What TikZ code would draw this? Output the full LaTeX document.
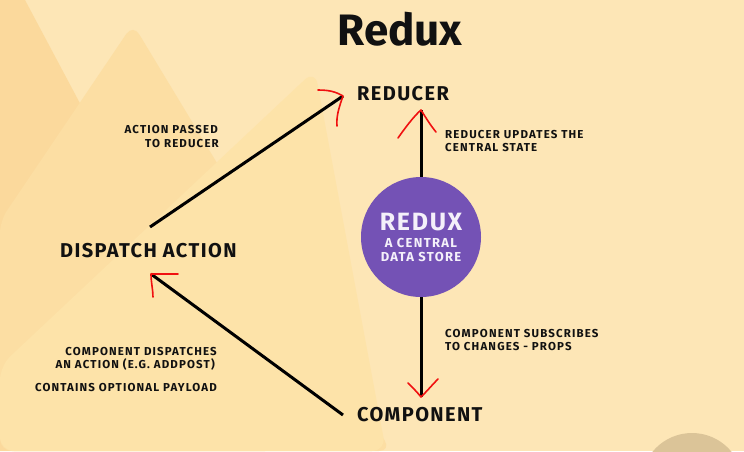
\documentclass[tikz,border=0pt]{standalone}
\usepackage{fontspec}
\setmainfont{Fira Sans}
\newfontfamily\labfont{Fira Sans}[LetterSpace=10]
\newfontfamily\bigfont{Fira Sans}[LetterSpace=7]
\definecolor{bgc}{HTML}{FDE6B6}
\definecolor{mta}{HTML}{FBD99C}
\definecolor{mtb}{HTML}{FCDEA3}
\definecolor{mtc}{HTML}{FDE3A9}
\definecolor{moon}{HTML}{DBC498}
\definecolor{storec}{HTML}{7452B5}
\definecolor{storetxt}{HTML}{F4F0FA}
\definecolor{inkc}{HTML}{111111}
\definecolor{penred}{HTML}{F01010}
\tikzset{
  biglabel/.style={font=\bigfont\bfseries\fontsize{20}{20}\selectfont, text=inkc, inner sep=0pt, anchor=base west},
  smalllabel/.style={font=\labfont\bfseries\fontsize{11.5}{11.5}\selectfont, text=inkc, inner sep=0pt},
  storelabel/.style={font=\labfont\bfseries\fontsize{13}{13}\selectfont, text=storetxt, inner sep=0pt, anchor=base},
  flow/.style={draw=black, line width=3pt},
  redpen/.style={draw=penred, line width=1.6pt, line cap=round, line join=round},
}
\begin{document}
\begin{tikzpicture}[x=1pt,y=-1pt]
\useasboundingbox (0,0) rectangle (744,451);
% background
\fill[bgc] (0,0) rectangle (744,451);
\fill[mta] (0,0) -- (25,0) -- (265,451) -- (0,451) -- cycle;
\fill[mtb, rounded corners=12pt] (0,221) -- (133,24) -- (391,451) -- (0,451) -- cycle;
\fill[mtc, rounded corners=14pt] (0,366) -- (315,70) -- (386,451) -- (0,451) -- cycle;
\fill[moon] (692,484) circle[radius=51];

% title
\node[font=\fontsize{44}{44}\selectfont\bfseries, text=inkc, inner sep=0pt, anchor=base] (title) at (400,45) {Redux};

% main nodes
\node[biglabel] (red) at (357,100) {REDUCER};
\node[biglabel] (disp) at (60,257) {DISPATCH ACTION};
\node[biglabel] (comp) at (357,421) {COMPONENT};
\node[circle, fill=storec, minimum size=120pt, inner sep=0pt] (store) at (421,237) {};
\node[font=\bigfont\bfseries\fontsize{25}{25}\selectfont, text=storetxt, inner sep=0pt, anchor=base] (storet) at (421,230) {REDUX};
\node[storelabel] (storea) at (421,247) {A CENTRAL};
\node[storelabel] (storeb) at (421,261) {DATA STORE};

% connector end points
\coordinate (d1) at (150,227);
\coordinate (r1) at (343,96);
\coordinate (c1) at (343,415);
\coordinate (d2) at (151,274);
\coordinate (r2) at (421,110);
\coordinate (c2) at (421,397);

\draw[flow] (d1) -- (r1);
\draw[flow] (c1) -- (d2);
\draw[flow] (store.north) -- (r2);
\draw[flow] (store.south) -- (c2);

% hand drawn red arrow heads
\draw[redpen] (318,90) .. controls (330,90) and (336,92) .. (r1) .. controls (340,105) and (336,115) .. (337,126);
\draw[redpen] (398,138) .. controls (405,128) and (414,116) .. (r2) .. controls (426,118) and (431,126) .. (436,132);
\draw[redpen] (178,274) -- (d2) .. controls (151,282) and (153,290) .. (153,297);
\draw[redpen] (408,383) .. controls (413,388) and (418,393) .. (c2) .. controls (428,390) and (433,384) .. (438,379);

% small labels
\node[smalllabel, anchor=base east] (l1a) at (218,133) {ACTION PASSED};
\node[smalllabel, anchor=base east] (l1b) at (219,147) {TO REDUCER};
\node[smalllabel, anchor=base west] (l2a) at (445,138) {REDUCER UPDATES THE};
\node[smalllabel, anchor=base west] (l2b) at (445,151) {CENTRAL STATE};
\node[smalllabel, anchor=base west] (l3a) at (445,337) {COMPONENT SUBSCRIBES};
\node[smalllabel, anchor=base west] (l3b) at (445,350) {TO CHANGES - PROPS};
\node[smalllabel, anchor=base east] (l4a) at (217,355) {COMPONENT DISPATCHES};
\node[smalllabel, anchor=base east] (l4b) at (215,368) {AN ACTION (E.G. ADDPOST)};
\node[smalllabel, anchor=base east] (l4c) at (217,391) {CONTAINS OPTIONAL PAYLOAD};
\end{tikzpicture}
\end{document}
